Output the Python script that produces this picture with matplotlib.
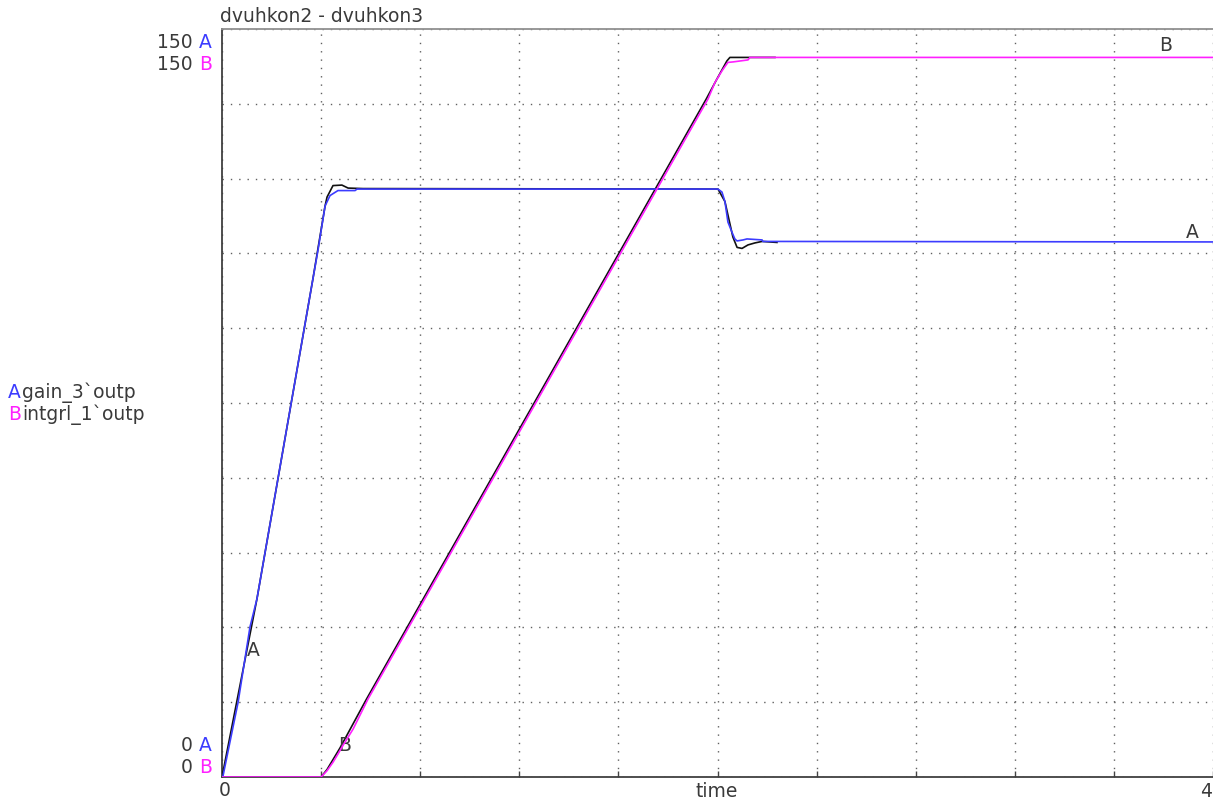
import numpy as np
import matplotlib
matplotlib.use("Agg")
import matplotlib.pyplot as plt

W, H = 1213, 803

# trace A (gain_3`outp)
a_time = [0.0, 0.004, 0.065, 0.113, 0.141, 0.367, 0.387, 0.416, 0.436, 0.468, 0.537, 0.545,
          2.002, 2.018, 2.030, 2.042, 2.058, 2.070, 2.079, 2.103, 2.119, 2.180, 2.183, 4.0]
a_val = [0.0, 0.2, 15.0, 30.1, 35.7, 99.9, 105.5, 114.5, 116.6, 117.6, 117.6, 117.9,
         117.9, 117.3, 115.4, 111.3, 109.3, 107.9, 107.5, 107.7, 107.9, 107.7, 107.4, 107.3]

# reference trace for A (black)
a_ref_time = [0.0, 0.141, 0.367, 0.416, 0.424, 0.448, 0.484, 0.509, 0.569,
              2.002, 2.030, 2.062, 2.079, 2.099, 2.123, 2.151, 2.180, 2.240]
a_ref_val = [0.0, 35.7, 99.9, 114.5, 116.3, 118.6, 118.7, 118.1, 118.0,
             117.9, 115.4, 108.3, 106.2, 106.0, 106.7, 107.1, 107.4, 107.2]

# trace B (intgrl_1`outp)
b_time = [0.0, 0.400, 0.424, 0.448, 0.468, 0.488, 0.529, 0.589, 1.962, 1.990,
          2.018, 2.042, 2.063, 2.123, 2.131, 4.0]
b_val = [0.0, 0.0, 1.26, 2.95, 4.6, 6.3, 9.6, 15.6, 136.0, 139.3,
         141.6, 143.3, 143.4, 143.8, 144.3, 144.3]

# reference trace for B (black)
b_ref_time = [0.0, 0.400, 0.424, 0.476, 0.583, 1.955, 1.998, 2.038, 2.050, 2.232]
b_ref_val = [0.0, 0.0, 1.5, 5.8, 15.6, 136.0, 140.0, 143.6, 144.3, 144.3]

x_min, x_max = 0, 4
y_min, y_max = 0, 150

BLUE = "#3c3cff"
MAGENTA = "#ff20ff"
TXT = "#3a3a3a"
FS = 13.5

fig = plt.figure(figsize=(W / 100, H / 100), dpi=100)
ax = fig.add_axes([222 / W, 1 - 778 / H, (1213 - 222) / W, (778 - 30) / H])

ax.plot(a_ref_time, a_ref_val, color="#111111", lw=1.2, zorder=3)
ax.plot(b_ref_time, b_ref_val, color="#111111", lw=1.2, zorder=3)
ax.plot(a_time, a_val, color=BLUE, lw=1.2, zorder=4)
ax.plot(b_time, b_val, color=MAGENTA, lw=1.2, zorder=4)

ax.set_xlim(x_min, x_max)
ax.set_ylim(y_min, y_max)
ax.set_xticks(np.arange(0, 4.01, 0.4))
ax.set_yticks(np.arange(0, 150.1, 15))
ax.set_xticklabels([])
ax.set_yticklabels([])
ax.tick_params(axis="x", direction="in", length=4, color="#444444", width=1)
ax.tick_params(axis="y", length=0)
ax.grid(True, color="#606060", linestyle=(0, (1, 5)), linewidth=1.0)

for s in ["left", "bottom"]:
    ax.spines[s].set_color("#404040")
    ax.spines[s].set_linewidth(1.3)
ax.spines["top"].set_color("#909090")
ax.spines["top"].set_linewidth(1.3)
ax.spines["right"].set_visible(False)

# labels on the curves
ax.text(0.125, 25.5, "A", color=TXT, fontsize=FS, ha="center", va="center")
ax.text(0.496, 6.6, "B", color=TXT, fontsize=FS, ha="center", va="center")
ax.text(3.81, 146.8, "B", color=TXT, fontsize=FS, ha="center", va="center")
ax.text(3.915, 109.3, "A", color=TXT, fontsize=FS, ha="center", va="center")


def ftext(x, y, s, **kw):
    fig.text(x / W, 1 - y / H, s, fontsize=FS, va="center", **kw)


ftext(220, 17, "dvuhkon2 - dvuhkon3", color=TXT, ha="left")

# axis range labels
for y, num, letter, col in [(42, "150", "A", BLUE), (64, "150", "B", MAGENTA),
                            (746, "0", "A", BLUE), (768, "0", "B", MAGENTA)]:
    ftext(193, y, num, color=TXT, ha="right")
    ftext(212, y, letter, color=col, ha="right")

# signal legend
ftext(8, 393, "A", color=BLUE, ha="left")
ftext(22, 393, "gain_3`outp", color=TXT, ha="left")
ftext(8, 415, "B", color=MAGENTA, ha="left")
ftext(22, 415, "intgrl_1`outp", color=TXT, ha="left")

# x labels
ftext(225, 791, "0", color=TXT, ha="center")
ftext(717, 792, "time", color=TXT, ha="center")
ftext(1212, 792, "4", color=TXT, ha="right")

fig.savefig("out.png", dpi=100)
